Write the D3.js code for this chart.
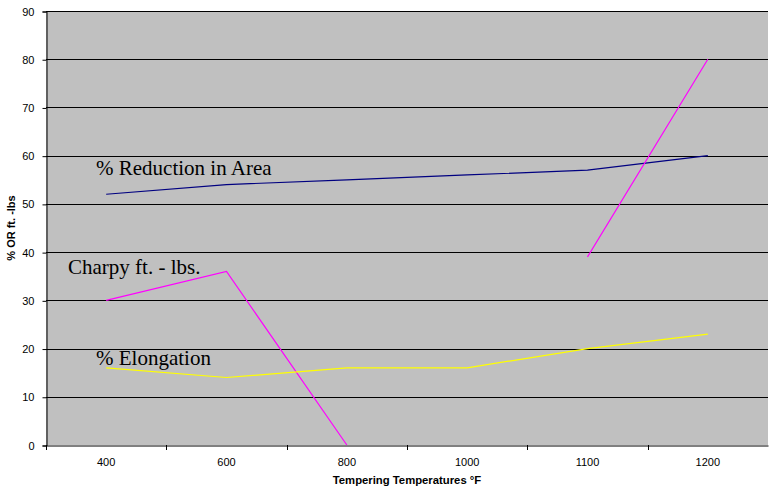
<!DOCTYPE html>
<html>
<head>
<meta charset="utf-8">
<script src="https://cdn.jsdelivr.net/npm/d3@7"></script>
<style>
  html, body { margin: 0; padding: 0; background: #fff; }
  svg { display: block; }
  .tick text { font-family: "Liberation Sans", Arial, sans-serif; font-size: 11px; fill: #000; }
</style>
</head>
<body>
<div id="chart"></div>
<script>
// --- Données
const temps = ['400', '600', '800', '1000', '1100', '1200'];
const reductionArea = [52, 54, 55, 56, 57, 60];
const charpy = [30, 36, 0, null, 39, 80];
const elongation = [16, 14, 16, 16, 20, 23];
const yTicks = [0, 10, 20, 30, 40, 50, 60, 70, 80, 90];

const series = [
  { name: '% Reduction in Area', values: reductionArea, color: '#000080', lx: 96, ly: 175 },
  { name: 'Charpy ft. - lbs.', values: charpy, color: '#ff00ff', lx: 68, ly: 274 },
  { name: '% Elongation', values: elongation, color: '#ffff00', lx: 96, ly: 365 }
];

// --- Dimensions
const width = 769, height = 490;
const margin = { t: 11, r: 1, b: 45, l: 46 };

const svg = d3.select('#chart').append('svg')
  .attr('width', width).attr('height', height);

const x = d3.scaleBand().domain(temps).range([margin.l, width - margin.r]);
const y = d3.scaleLinear().domain([0, 90]).range([height - margin.b, margin.t]);

// fond gris
svg.append('rect')
  .attr('x', margin.l).attr('y', margin.t)
  .attr('width', width - margin.r - margin.l).attr('height', height - margin.b - margin.t)
  .attr('fill', '#c0c0c0');

// lignes de grille
svg.append('g').selectAll('line').data(yTicks.filter(d => d > 0)).join('line')
  .attr('x1', margin.l).attr('x2', width - margin.r)
  .attr('y1', d => Math.round(y(d)) + 0.5).attr('y2', d => Math.round(y(d)) + 0.5)
  .attr('stroke', '#000').attr('stroke-width', 1);

// axe Y
const yAxis = svg.append('g')
  .attr('transform', `translate(${margin.l + 0.5},0.5)`)
  .call(d3.axisLeft(y).tickValues(yTicks).tickSize(4).tickPadding(8));
yAxis.select('.domain').attr('stroke', '#000');

// axe X (graduations entre les catégories)
const xAxis = svg.append('g')
  .attr('transform', `translate(0,${Math.round(y(0)) + 0.5})`)
  .call(d3.axisBottom(x).tickSize(0).tickPadding(13));
xAxis.select('.domain').attr('stroke', '#000');
xAxis.selectAll('.tick line').remove();
svg.append('g').selectAll('line').data(temps).join('line')
  .attr('x1', d => Math.round(x(d)) + 0.5).attr('x2', d => Math.round(x(d)) + 0.5)
  .attr('y1', Math.round(y(0))).attr('y2', Math.round(y(0)) + 5)
  .attr('stroke', '#000');

// courbes
const line = d3.line()
  .defined(d => d.v != null)
  .x(d => x(d.t) + x.bandwidth() / 2)
  .y(d => y(d.v));

series.forEach(s => {
  const pts = temps.map((t, i) => ({ t, v: s.values[i] }));
  svg.append('path')
    .attr('d', line(pts))
    .attr('fill', 'none')
    .attr('stroke', s.color)
    .attr('stroke-width', 1.2);
  svg.append('text')
    .attr('x', s.lx).attr('y', s.ly)
    .attr('font-family', '"Liberation Serif", "Times New Roman", serif')
    .attr('font-size', 21)
    .attr('fill', '#000')
    .text(s.name);
});

// titres des axes
svg.append('text')
  .attr('x', (margin.l + width - margin.r) / 2).attr('y', 484)
  .attr('text-anchor', 'middle')
  .attr('font-family', '"Liberation Sans", Arial, sans-serif')
  .attr('font-size', 11.3).attr('font-weight', 'bold')
  .text('Tempering Temperatures °F');

svg.append('text')
  .attr('transform', `translate(15,${(margin.t + height - margin.b) / 2}) rotate(-90)`)
  .attr('text-anchor', 'middle')
  .attr('font-family', '"Liberation Sans", Arial, sans-serif')
  .attr('font-size', 11).attr('font-weight', 'bold')
  .text('% OR ft. -lbs');
</script>
</body>
</html>
